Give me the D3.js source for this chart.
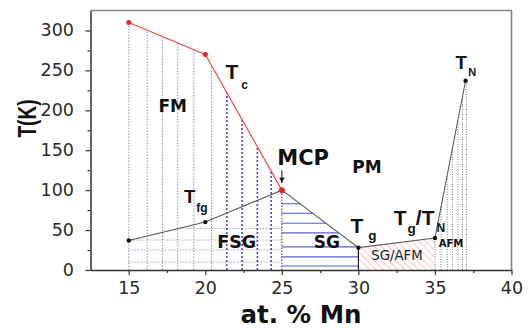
<!DOCTYPE html>
<html>
<head>
<meta charset="utf-8">
<script src="https://cdn.jsdelivr.net/npm/d3@7"></script>
<style>
  html, body { margin: 0; padding: 0; background: #fff; }
  svg { display: block; }
</style>
</head>
<body>
<div id="chart"></div>
<script>
// values (at.% Mn vs T)
const tcMn = [15, 20, 25];
const tcT = [310, 270, 100];
const lowMn = [15, 20, 25, 30, 35, 37];
const lowT = [37, 60, 100, 28, 40, 237];
const fmLines = [15, 16.2, 17.2, 18.2, 19.25, 20.4];
const fsgVLines = [21.4, 22.4, 23.4, 24.3];
const fsgHLevels = [10, 25, 37.5, 52];
const sgLevels = [5, 16.5, 29, 46.5, 58.5, 71, 83];
const afmLines = [35, 35.4, 35.8, 36.15, 36.5, 36.8, 37.05];
const xTicks = [15, 20, 25, 30, 35, 40];
const xMinor = [17.5, 22.5, 27.5, 32.5, 37.5];
const yTicks = [0, 50, 100, 150, 200, 250, 300];
const yMinor = [25, 75, 125, 175, 225, 275];

const width = 531, height = 329;

const svg = d3.select('#chart').append('svg')
  .attr('width', width)
  .attr('height', height);

const x = d3.scaleLinear().domain([12.5, 40]).range([90.5, 511.5]);
const y = d3.scaleLinear().domain([0, 325]).range([270, 10.5]);

// linear interpolation on a polyline
function lineAt(xs, ys, v) {
  for (let i = 0; i < xs.length - 1; i++) {
    if (v >= xs[i] && v <= xs[i + 1]) {
      return ys[i] + (v - xs[i]) / (xs[i + 1] - xs[i]) * (ys[i + 1] - ys[i]);
    }
  }
  return v < xs[0] ? ys[0] : ys[ys.length - 1];
}
// x where segment i of the low line reaches level t
function segInv(i, t) {
  return lowMn[i] + (t - lowT[i]) / (lowT[i + 1] - lowT[i]) * (lowMn[i + 1] - lowMn[i]);
}

const defs = svg.append('defs');
defs.append('pattern')
  .attr('id', 'redHatch')
  .attr('patternUnits', 'userSpaceOnUse')
  .attr('width', 5).attr('height', 5)
  .attr('patternTransform', 'rotate(-45)')
  .append('line')
  .attr('x1', 0).attr('y1', 0).attr('x2', 0).attr('y2', 5)
  .attr('stroke', '#f26a6a').attr('stroke-width', 0.8);

defs.append('marker')
  .attr('id', 'arrow')
  .attr('viewBox', '0 -5 10 10')
  .attr('refX', 10).attr('refY', 0)
  .attr('markerWidth', 5).attr('markerHeight', 5)
  .attr('orient', 'auto')
  .append('path')
  .attr('d', 'M0,-5L10,0L0,5')
  .attr('fill', '#222');

const g = svg.append('g');

// SG/AFM red hatch
const hatchPts = [[lowMn[3], 0], [lowMn[3], lowT[3]], [lowMn[4], lowT[4]], [lowMn[4], 0]];
g.append('path')
  .attr('d', d3.line().x(d => x(d[0])).y(d => y(d[1]))(hatchPts) + 'Z')
  .attr('fill', 'url(#redHatch)');

// FM thin blue dotted verticals
g.append('g').selectAll('line')
  .data(fmLines)
  .join('line')
  .attr('x1', d => x(d)).attr('x2', d => x(d))
  .attr('y1', y(0)).attr('y2', d => y(lineAt(tcMn, tcT, d)))
  .attr('stroke', '#7f7fdc')
  .attr('stroke-width', 0.9)
  .attr('stroke-dasharray', '1.5,1.5');

// FSG horizontal grey dotted lines
g.append('g').selectAll('line')
  .data(fsgHLevels)
  .join('line')
  .attr('x1', d => x(d < lowT[0] ? lowMn[0] : (d < lowT[1] ? segInv(0, d) : segInv(1, d))))
  .attr('x2', x(25))
  .attr('y1', d => y(d)).attr('y2', d => y(d))
  .attr('stroke', '#9a9a9a')
  .attr('stroke-width', 0.9)
  .attr('stroke-dasharray', '1.5,1.5');

// FSG bold blue dotted verticals
g.append('g').selectAll('line')
  .data(fsgVLines)
  .join('line')
  .attr('x1', d => x(d)).attr('x2', d => x(d))
  .attr('y1', y(0)).attr('y2', d => y(lineAt(tcMn, tcT, d)))
  .attr('stroke', '#4545cf')
  .attr('stroke-width', 1.6)
  .attr('stroke-dasharray', '2,2');

// SG blue horizontals
g.append('g').selectAll('line')
  .data(sgLevels)
  .join('line')
  .attr('x1', x(lowMn[2]))
  .attr('x2', d => x(d < lowT[3] ? lowMn[3] : segInv(2, d)))
  .attr('y1', d => y(d)).attr('y2', d => y(d))
  .attr('stroke', '#5262d2')
  .attr('stroke-width', 1.1);

// AFM dotted verticals
g.append('g').selectAll('line')
  .data(afmLines)
  .join('line')
  .attr('x1', d => x(d)).attr('x2', d => x(d))
  .attr('y1', y(0)).attr('y2', d => y(lineAt(lowMn, lowT, d)))
  .attr('stroke', '#555')
  .attr('stroke-width', 0.8)
  .attr('stroke-dasharray', '1,1.5');

// x = 25 black dotted and x = 30 solid
g.append('line')
  .attr('x1', x(lowMn[2])).attr('x2', x(lowMn[2]))
  .attr('y1', y(0)).attr('y2', y(lowT[2]))
  .attr('stroke', '#333').attr('stroke-width', 1)
  .attr('stroke-dasharray', '1.5,1.5');
g.append('line')
  .attr('x1', x(lowMn[3])).attr('x2', x(lowMn[3]))
  .attr('y1', y(0)).attr('y2', y(lowT[3]))
  .attr('stroke', '#222').attr('stroke-width', 1.2);

// transition lines
const lowPts = lowMn.map((m, i) => [m, lowT[i]]);
g.append('path')
  .attr('d', d3.line().x(d => x(d[0])).y(d => y(d[1]))(lowPts))
  .attr('fill', 'none')
  .attr('stroke', '#5a5a5a')
  .attr('stroke-width', 1.1);

const tcPts = tcMn.map((m, i) => [m, tcT[i]]);
g.append('path')
  .attr('d', d3.line().x(d => x(d[0])).y(d => y(d[1]))(tcPts))
  .attr('fill', 'none')
  .attr('stroke', '#f04848')
  .attr('stroke-width', 1.2);

g.append('g').selectAll('circle')
  .data(lowPts.filter(d => d[0] !== 25))
  .join('circle')
  .attr('cx', d => x(d[0])).attr('cy', d => y(d[1]))
  .attr('r', 2.2)
  .attr('fill', '#111');

g.append('g').selectAll('circle')
  .data(tcPts)
  .join('circle')
  .attr('cx', d => x(d[0])).attr('cy', d => y(d[1]))
  .attr('r', d => d[0] === 25 ? 3 : 2.5)
  .attr('fill', '#e82020');

// MCP arrow
g.append('line')
  .attr('x1', x(25)).attr('x2', x(25))
  .attr('y1', y(125)).attr('y2', y(109))
  .attr('stroke', '#222').attr('stroke-width', 1.1)
  .attr('marker-end', 'url(#arrow)');

// labels
const bold = 'DejaVu Sans, sans-serif';
const arial = 'Liberation Sans, Arial, sans-serif';

function label(mn, t, parts, font, weight, fill) {
  const txt = g.append('text')
    .attr('x', x(mn)).attr('y', y(t))
    .attr('font-family', font)
    .attr('font-weight', weight || 'bold')
    .attr('fill', fill || '#111');
  parts.forEach(p => {
    txt.append('tspan')
      .attr('font-size', p.size)
      .attr('dx', p.dx || 0)
      .attr('dy', p.dy || 0)
      .text(p.t);
  });
}

label(16.94, 197.5, [{ t: 'FM', size: 17 }], bold);
label(29.6, 120.9, [{ t: 'PM', size: 17 }], bold);
label(24.7, 131.9, [{ t: 'MCP', size: 21 }], bold);
label(20.78, 27.1, [{ t: 'FSG', size: 17.5 }], bold);
label(27.09, 27.1, [{ t: 'SG', size: 17 }], bold);
label(35.25, 29.1, [{ t: 'AFM', size: 10 }], bold);
label(30.84, 12.5, [{ t: 'SG/AFM', size: 13.3 }], bold, 'normal', '#222');

label(21.32, 239.6, [{ t: 'T', size: 21 }, { t: 'c', size: 12, dx: 3, dy: 10 }], arial);
label(18.6, 83.4, [{ t: 'T', size: 18.5 }, { t: 'fg', size: 12, dx: 1, dy: 8.5 }], arial);
label(29.48, 45.9, [{ t: 'T', size: 21 }, { t: 'g', size: 13.5, dx: 5, dy: 7 }], arial);
label(32.31, 56.25, [
  { t: 'T', size: 21 },
  { t: 'g', size: 13.5, dx: 1, dy: 8 },
  { t: '/T', size: 21, dy: -8 },
  { t: 'N', size: 12, dx: 2, dy: 6.7 }
], arial);
label(36.34, 252.1, [{ t: 'T', size: 18.5 }, { t: 'N', size: 11, dx: 1.5, dy: 7.7 }], arial);

// axes
const axisFont = 'DejaVu Sans, sans-serif';

const xAxis = svg.append('g')
  .attr('transform', `translate(0,${y(0)})`)
  .call(d3.axisBottom(x).tickValues(xTicks).tickSize(5).tickPadding(7).tickSizeOuter(0));
svg.append('g')
  .attr('transform', `translate(0,${y(0)})`)
  .call(d3.axisBottom(x).tickValues(xMinor).tickSize(3).tickFormat('').tickSizeOuter(0))
  .call(a => a.select('.domain').remove());

const yAxis = svg.append('g')
  .attr('transform', `translate(${x(12.5)},0)`)
  .call(d3.axisLeft(y).tickValues(yTicks).tickSize(5).tickPadding(11.5).tickSizeOuter(0));
svg.append('g')
  .attr('transform', `translate(${x(12.5)},0)`)
  .call(d3.axisLeft(y).tickValues(yMinor).tickSize(3).tickFormat('').tickSizeOuter(0))
  .call(a => a.select('.domain').remove());

svg.selectAll('.tick line').attr('stroke', '#333').attr('stroke-width', 1.2);
[xAxis, yAxis].forEach(a => {
  a.select('.domain').attr('stroke', '#333').attr('stroke-width', 1.5);
  a.selectAll('.tick text')
    .attr('font-family', axisFont)
    .attr('font-size', 17.5)
    .attr('fill', '#2a2a2a');
});
yAxis.selectAll('.tick text').attr('dy', '0.3em');

// frame top and right
svg.append('path')
  .attr('d', `M${x(12.5)},${y(325)}H${x(40)}V${y(0)}`)
  .attr('fill', 'none')
  .attr('stroke', '#858585')
  .attr('stroke-width', 1.6);

// axis titles
svg.append('text')
  .attr('x', (x(12.5) + x(40)) / 2)
  .attr('y', 322.5)
  .attr('text-anchor', 'middle')
  .attr('font-family', axisFont)
  .attr('font-weight', 'bold')
  .attr('font-size', 24.5)
  .attr('fill', '#111')
  .text('at. % Mn');

svg.append('text')
  .attr('transform', `translate(36,${(100 + 137) / 2}) scale(1.4,1) rotate(-90)`)
  .attr('text-anchor', 'middle')
  .attr('font-family', arial)
  .attr('font-weight', 'bold')
  .attr('font-size', 19)
  .attr('fill', '#111')
  .text('T(K)');
</script>
</body>
</html>
